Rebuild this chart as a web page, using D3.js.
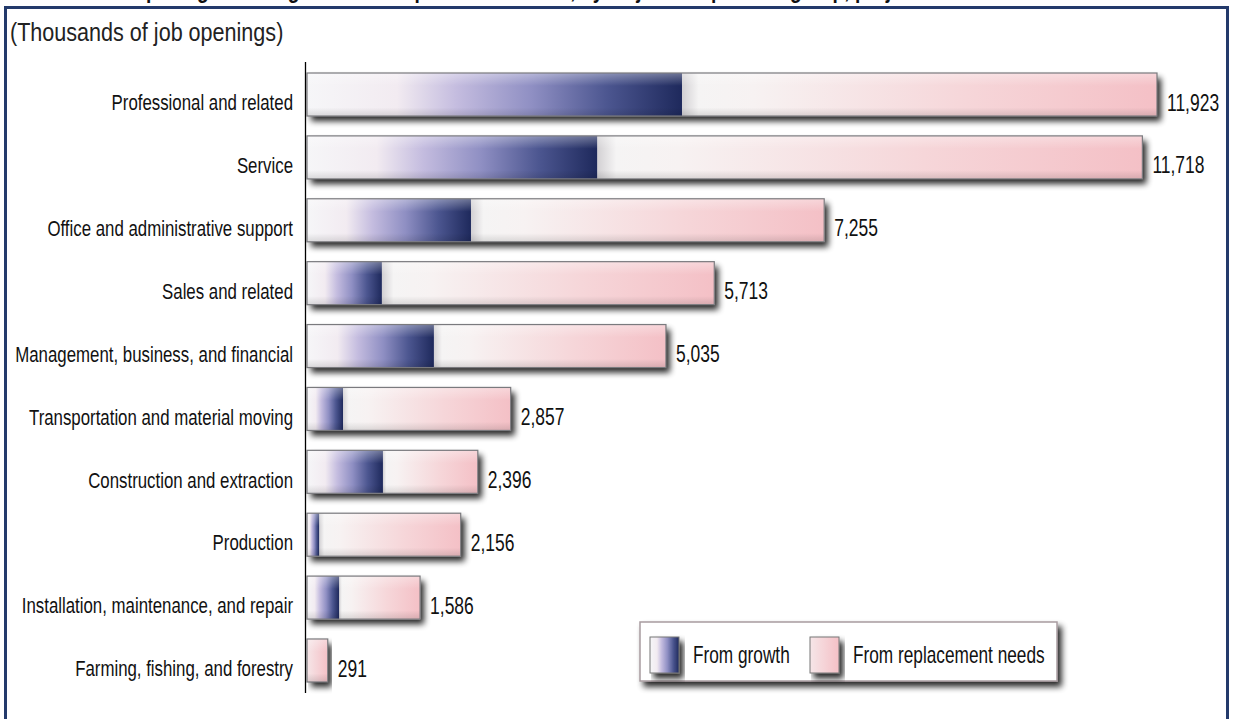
<!DOCTYPE html>
<html lang="en">

<head>
  <meta charset="UTF-8">
  <title>Job openings by major occupational group</title>
  <script src="https://d3js.org/d3.v7.min.js"></script>
  <style>
    body { margin: 0; background: #fff; }
    text { font-family: "Liberation Sans", Arial, sans-serif; fill: #111; }
  </style>
</head>

<body>
  <div class="canvas"></div>
  <script>
    // data (thousands)
    const categories = [
      'Professional and related',
      'Service',
      'Office and administrative support',
      'Sales and related',
      'Management, business, and financial',
      'Transportation and material moving',
      'Construction and extraction',
      'Production',
      'Installation, maintenance, and repair',
      'Farming, fishing, and forestry'
    ];
    const growth = [5260, 4070, 2300, 1050, 1780, 505, 1065, 170, 450, 0];
    const replacement = [6663, 7648, 4955, 4663, 3255, 2352, 1331, 1986, 1136, 291];
    const totalLabels = ['11,923', '11,718', '7,255', '5,713', '5,035', '2,857', '2,396', '2,156', '1,586', '291'];
    const seriesNames = ['From growth', 'From replacement needs'];

    const width = 1235;
    const height = 719;
    const x0 = 307;

    const svg = d3.select('.canvas')
      .append('svg')
      .attr('width', width)
      .attr('height', height)

    // no condensed font here, so squeeze the text horizontally
    function narrow(sel, x, y, sx) {
      return sel.attr('transform', `translate(${x},${y}) scale(${sx},1)`)
    }

    const defs = svg.append('defs')

    const growthGrad = defs.append('linearGradient').attr('id', 'gGrowth')
    ;[[0, '#f6f6f8'], [0.24, '#f2ebf1'], [0.4, '#c4bcdf'], [0.6, '#8f8fc3'], [0.8, '#4c5690'], [1, '#1e295c']]
      .forEach(s => growthGrad.append('stop').attr('offset', s[0]).attr('stop-color', s[1]))

    const replGrad = defs.append('linearGradient').attr('id', 'gRepl')
    ;[[0, '#d2d0d3'], [0.035, '#f5f4f4'], [0.15, '#f7f2f2'], [0.6, '#f6d6d9'], [1, '#f4c0c6']]
      .forEach(s => replGrad.append('stop').attr('offset', s[0]).attr('stop-color', s[1]))

    const replOnly = defs.append('linearGradient').attr('id', 'gReplOnly')
    ;[[0, '#f6e6e8'], [1, '#f4c0c6']]
      .forEach(s => replOnly.append('stop').attr('offset', s[0]).attr('stop-color', s[1]))

    const gloss = defs.append('linearGradient').attr('id', 'gGloss').attr('x2', 0).attr('y2', 1)
    ;[[0, '#fff', 0.35], [0.3, '#fff', 0], [0.8, '#000', 0], [1, '#000', 0.12]]
      .forEach(s => gloss.append('stop').attr('offset', s[0]).attr('stop-color', s[1]).attr('stop-opacity', s[2]))

    const shadow = defs.append('filter').attr('id', 'shadow')
      .attr('x', '-10%').attr('y', '-30%').attr('width', '130%').attr('height', '180%')
    shadow.append('feGaussianBlur').attr('in', 'SourceAlpha').attr('stdDeviation', 3)
    shadow.append('feOffset').attr('dx', 4).attr('dy', 5).attr('result', 'b')
    shadow.append('feComponentTransfer').append('feFuncA').attr('type', 'linear').attr('slope', 0.85)
    shadow.append('feMerge').call(m => {
      m.append('feMergeNode')
      m.append('feMergeNode').attr('in', 'SourceGraphic')
    })

    // title, cropped by the top edge like in the picture
    narrow(svg.append('text'), 18, -2, 0.8)
      .style('font-weight', 'bold').style('font-size', '24px')
      .text('Chart 2. Job openings due to growth and replacement needs, by major occupational group, projected 2010–20')

    // frame
    svg.append('rect')
      .attr('x', 5.5).attr('y', 7.5)
      .attr('width', 1222).attr('height', 740)
      .attr('fill', '#fff').attr('stroke', '#233a6b').attr('stroke-width', 3)

    narrow(svg.append('text'), 10, 41, 0.83)
      .style('font-size', '26px')
      .style('fill', '#222')
      .text('(Thousands of job openings)')

    const x = d3.scaleLinear()
      .domain([0, 12000])
      .range([x0, x0 + 12000 * 0.07129])

    const y = d3.scaleBand()
      .domain(categories)
      .range([62, 693])
      .paddingInner(0.316)
      .paddingOuter(0.175)

    const rows = categories.map((c, i) => ({ c, g: growth[i], r: replacement[i], label: totalLabels[i] }))

    const bar = svg.selectAll('g.bar').data(rows).enter()
      .append('g').attr('class', 'bar')

    bar.append('rect')
      .attr('x', x(0))
      .attr('y', d => y(d.c))
      .attr('width', d => x(d.g + d.r) - x(0))
      .attr('height', y.bandwidth())
      .attr('fill', '#eee')
      .attr('filter', 'url(#shadow)')

    bar.append('rect')
      .attr('x', d => x(d.g))
      .attr('y', d => y(d.c))
      .attr('width', d => x(d.g + d.r) - x(d.g))
      .attr('height', y.bandwidth())
      .attr('fill', d => d.g > 0 ? 'url(#gRepl)' : 'url(#gReplOnly)')

    bar.filter(d => d.g > 0).append('rect')
      .attr('x', x(0))
      .attr('y', d => y(d.c))
      .attr('width', d => x(d.g) - x(0))
      .attr('height', y.bandwidth())
      .attr('fill', 'url(#gGrowth)')

    bar.append('rect')
      .attr('x', x(0))
      .attr('y', d => y(d.c))
      .attr('width', d => x(d.g + d.r) - x(0))
      .attr('height', y.bandwidth())
      .attr('fill', 'url(#gGloss)')
      .attr('stroke', '#7a7a7e')
      .attr('stroke-width', 1.2)

    bar.append('text')
      .each(function (d) {
        narrow(d3.select(this), x(d.g + d.r) + 10, y(d.c) + y.bandwidth() / 2 + 8, 0.76)
      })
      .attr('dy', '0.35em')
      .style('font-size', '23px')
      .text(d => d.label)

    // category labels
    svg.selectAll('text.cat').data(categories).enter()
      .append('text').attr('class', 'cat')
      .each(function (d) {
        narrow(d3.select(this), 293, y(d) + y.bandwidth() / 2 + 8, 0.765)
      })
      .attr('dy', '0.35em')
      .attr('text-anchor', 'end')
      .style('font-size', '22px')
      .text(d => d)

    svg.append('line')
      .attr('x1', 305.5).attr('x2', 305.5)
      .attr('y1', 62).attr('y2', 693)
      .attr('stroke', '#000').attr('stroke-width', 1.3)

    // legend
    const legend = svg.append('g').attr('transform', 'translate(640,622)')
    legend.append('rect')
      .attr('width', 417).attr('height', 59)
      .attr('fill', '#fff').attr('stroke', '#a89ca0').attr('stroke-width', 1.5)
      .attr('filter', 'url(#shadow)')
    const swatches = [
      { x: 10, fill: 'url(#gGrowth)' },
      { x: 170, fill: 'url(#gReplOnly)' }
    ]
    seriesNames.forEach((name, i) => {
      legend.append('rect')
        .attr('x', swatches[i].x).attr('y', 15)
        .attr('width', 29).attr('height', 36)
        .attr('fill', swatches[i].fill)
        .attr('stroke', '#777')
        .attr('filter', 'url(#shadow)')
      narrow(legend.append('text'), swatches[i].x + 43, 33, 0.75)
        .attr('dy', '0.35em')
        .style('font-size', '23px')
        .text(name)
    })
  </script>

</body>

</html>
